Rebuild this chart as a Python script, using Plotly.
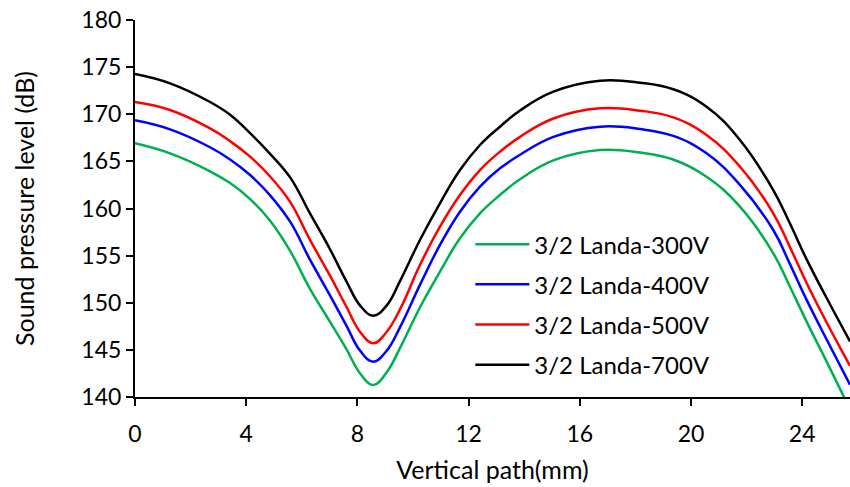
import plotly.graph_objects as go

x_mm = [0, 1.26, 2.7, 3.42, 4.14, 4.86, 5.58, 6.29, 7.01, 7.6, 8.1, 8.57, 9.05, 9.55,
        10.25, 10.97, 11.69, 12.41, 13.13, 13.85, 15.05, 16.73, 18.17, 19.36, 20.56,
        21.76, 22.96, 23.56, 24.16, 24.88, 25.72]

spl_300 = [166.92, 165.85, 163.95, 162.7, 161.0, 158.7, 155.5, 151.5, 148.0, 145.1, 142.5,
           141.27, 142.6, 145.3, 149.5, 153.3, 156.84, 159.49, 161.43, 163.1, 165.1, 166.2,
           165.93, 165.2, 163.37, 160.2, 155.25, 151.7, 148.0, 143.75, 138.7]
spl_400 = [169.36, 168.4, 166.5, 165.2, 163.55, 161.4, 158.6, 154.6, 150.8, 147.6, 144.9,
           143.75, 144.9, 147.5, 151.9, 156.13, 159.66, 162.32, 164.26, 165.7, 167.6, 168.68,
           168.43, 167.7, 165.86, 162.5, 157.72, 154.1, 150.3, 146.1, 141.3]
spl_500 = [171.3, 170.45, 168.5, 167.15, 165.5, 163.4, 160.7, 156.7, 152.9, 149.6, 146.9,
           145.7, 146.9, 149.4, 154.0, 158.07, 161.43, 164.08, 166.03, 167.6, 169.55, 170.63,
           170.38, 169.67, 167.8, 164.44, 159.49, 155.9, 152.1, 147.9, 143.3]
spl_700 = [174.27, 173.28, 171.3, 169.95, 168.0, 165.8, 163.3, 159.5, 155.7, 152.3, 149.7,
           148.63, 149.7, 152.4, 156.66, 160.55, 164.08, 166.74, 168.68, 170.4, 172.4, 173.56,
           173.35, 172.65, 170.8, 167.27, 161.96, 158.4, 154.6, 150.5, 145.9]

series_names = ["3/2 Landa-300V", "3/2 Landa-400V", "3/2 Landa-500V", "3/2 Landa-700V"]
series_vals = [spl_300, spl_400, spl_500, spl_700]
colors = ["#00B050", "#0000FF", "#FF0000", "#000000"]

FONT = "Lato"

fig = go.Figure()
for i, (name, vals, col) in enumerate(zip(series_names, series_vals, colors)):
    fig.add_trace(go.Scatter(
        x=x_mm, y=vals, mode="lines", name=name, legendgroup=f"g{i}",
        line=dict(color=col, width=2.5, shape="spline", smoothing=1.2),
    ))

fig.update_layout(
    width=850, height=487,
    margin=dict(l=135, r=0, t=20, b=90),
    paper_bgcolor="white", plot_bgcolor="white",
    font=dict(family=FONT, size=23, color="black"),
    showlegend=True,
    legend=dict(
        x=0.469, y=0.464, xanchor="left", yanchor="top",
        bgcolor="rgba(0,0,0,0)", font=dict(family=FONT, size=24, color="black"),
        tracegroupgap=6, itemwidth=54,
    ),
)
fig.update_xaxes(
    range=[0, 25.72], tickmode="linear", tick0=0, dtick=4, automargin=False,
    showgrid=False, zeroline=False, showline=True, linecolor="black", linewidth=2,
    ticks="outside", ticklen=7, tickwidth=2, tickcolor="black",
    ticklabelstandoff=8,
    title=dict(text="Vertical path(mm)", font=dict(family=FONT, size=25), standoff=16),
    tickfont=dict(family=FONT, size=23),
)
fig.update_yaxes(
    range=[140, 180], tickmode="linear", tick0=140, dtick=5, automargin=False,
    showgrid=False, zeroline=False, showline=True, linecolor="black", linewidth=2,
    ticks="outside", ticklen=7, tickwidth=2, tickcolor="black",
    ticklabelstandoff=0,
    title=dict(text="Sound pressure level (dB)", font=dict(family=FONT, size=25), standoff=40),
    tickfont=dict(family=FONT, size=23),
)

fig.write_html("out.html", config={"displayModeBar": False},
               post_script="document.body.style.margin='0';")
